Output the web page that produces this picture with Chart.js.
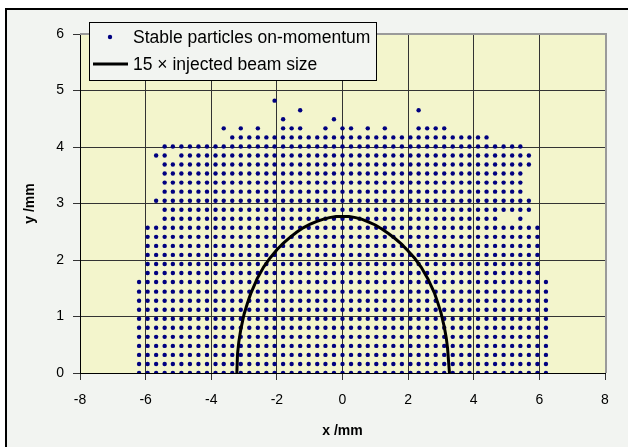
<!DOCTYPE html>
<html>
<head>
<meta charset="utf-8">
<script src="https://cdn.jsdelivr.net/npm/chart.js@4/dist/chart.umd.min.js"></script>
<style>
  html, body { margin: 0; padding: 0; background: #ffffff; }
  #c { display: block; }
</style>
</head>
<body>
<canvas id="c" width="628" height="447"></canvas>
<script>
// ---- Data ----
const seriesNames = ['Stable particles on-momentum', '15 \u00d7 injected beam size'];
const xTicks = [-8, -6, -4, -2, 0, 2, 4, 6, 8];
const yTicks = [0, 1, 2, 3, 4, 5, 6];

// grid columns (x, mm) on which particles sit
const colX = [-6.20, -5.94, -5.68, -5.42, -5.17, -4.91, -4.65, -4.39, -4.13, -3.87,
              -3.62, -3.36, -3.10, -2.84, -2.58, -2.32, -2.07, -1.81, -1.55, -1.29,
              -1.03, -0.77, -0.52, -0.26, 0.00, 0.26, 0.52, 0.77, 1.03, 1.29,
              1.55, 1.81, 2.07, 2.32, 2.58, 2.84, 3.10, 3.36, 3.62, 3.87,
              4.13, 4.39, 4.65, 4.91, 5.17, 5.42, 5.68, 5.94, 6.20];
// grid rows (y, mm)
const rowY = [0.00, 0.16, 0.32, 0.48, 0.64, 0.80, 0.96, 1.12, 1.28, 1.44,
              1.61, 1.77, 1.93, 2.09, 2.25, 2.41, 2.57, 2.73, 2.89, 3.05,
              3.21, 3.37, 3.53, 3.69, 3.85, 4.01, 4.17, 4.33, 4.49, 4.65, 4.82];
// occupied x-spans (mm) for each row, bottom to top
const rowSpans = [
  [[-6.20, 6.20]], [[-6.20, 6.20]], [[-6.20, 6.20]], [[-6.20, 6.20]], [[-6.20, 6.20]],
  [[-6.20, 6.20]], [[-6.20, 6.20]], [[-6.20, 6.20]], [[-6.20, 6.20]], [[-6.20, 6.20]],
  [[-6.20, 6.20]],
  [[-5.94, 5.94]], [[-5.94, 5.94]], [[-5.94, 5.94]], [[-5.94, 5.94]], [[-5.94, 5.94]], [[-5.94, 5.94]],
  [[-5.42, 4.65], [5.42, 5.42]],
  [[-5.42, 5.68]],
  [[-5.68, 5.68]],
  [[-5.42, 5.42]], [[-5.42, 5.42]], [[-5.42, 5.42]],
  [[-5.42, 5.68]],
  [[-5.68, -5.42], [-4.91, 5.68]],
  [[-5.42, 5.42]],
  [[-3.36, 4.39]],
  [[-3.62, -3.62], [-3.10, -3.10], [-2.58, -2.58], [-1.81, -1.29], [-0.52, -0.52],
   [0.00, 0.26], [0.77, 0.77], [1.29, 1.29], [2.32, 3.10]],
  [[-1.81, -1.81], [-0.26, -0.26]],
  [[-1.29, -1.29], [2.32, 2.32]],
  [[-2.07, -2.07]]
];

// beam-size envelope
const curveX = [-3.22, -3.20, -3.16, -3.10, -3.00, -2.90, -2.80, -2.60, -2.40, -2.20,
                -2.00, -1.80, -1.60, -1.40, -1.20, -1.00, -0.80, -0.60, -0.40, -0.20,
                0.00, 0.20, 0.40, 0.60, 0.80, 1.00, 1.20, 1.40, 1.60, 1.80,
                2.00, 2.20, 2.40, 2.60, 2.80, 2.90, 3.00, 3.10, 3.16, 3.20, 3.26];
const curveY = [0.00, 0.33, 0.55, 0.77, 1.04, 1.23, 1.40, 1.67, 1.88, 2.04,
                2.18, 2.30, 2.40, 2.49, 2.57, 2.63, 2.68, 2.72, 2.75, 2.77,
                2.77, 2.77, 2.75, 2.72, 2.67, 2.62, 2.55, 2.47, 2.38, 2.28,
                2.16, 2.03, 1.87, 1.67, 1.42, 1.25, 1.07, 0.82, 0.63, 0.45, 0.00];

// ---- Build the tables for Chart.js ----
const particles = [];
rowY.forEach((y, k) => {
  const spans = rowSpans[k] || [];
  colX.forEach(x => {
    if (spans.some(([a, b]) => x >= a - 0.005 && x <= b + 0.005)) particles.push({x, y});
  });
});
const envelope = curveX.map((x, i) => ({x, y: curveY[i]}));

const FONT = "'Liberation Sans', Arial, sans-serif";
const OUTER_BG = '#F2F4F1';
const PLOT_BG = '#F3F5CC';
const DOT = '#000080';

const bgPlugin = {
  id: 'bg',
  beforeDraw(chart) {
    const ctx = chart.ctx, a = chart.chartArea;
    ctx.save();
    ctx.fillStyle = '#ffffff';
    ctx.fillRect(0, 0, chart.width, chart.height);
    ctx.fillStyle = OUTER_BG;
    ctx.fillRect(6, 9, chart.width - 6, chart.height - 9);
    ctx.fillStyle = '#000';
    ctx.fillRect(6, 8, chart.width - 6, 2);
    ctx.fillRect(5, 8, 2, chart.height - 8);
    ctx.fillStyle = PLOT_BG;
    ctx.fillRect(a.left, a.top, a.right - a.left, a.bottom - a.top);
    ctx.restore();
  },
  afterDraw(chart) {
    const ctx = chart.ctx, a = chart.chartArea;
    ctx.save();
    // plot-area frame (top & right, grey)
    ctx.strokeStyle = '#9a9a9a';
    ctx.lineWidth = 2;
    ctx.beginPath();
    ctx.moveTo(a.left, a.top);
    ctx.lineTo(a.right + 1, a.top);
    ctx.lineTo(a.right + 1, a.bottom);
    ctx.stroke();
    // legend
    const lx = 89, ly = 22, lw = 287, lh = 58;
    ctx.fillStyle = OUTER_BG;
    ctx.fillRect(lx, ly, lw, lh);
    ctx.strokeStyle = '#000';
    ctx.lineWidth = 1;
    ctx.strokeRect(lx + 0.5, ly + 0.5, lw, lh);
    ctx.fillStyle = DOT;
    ctx.beginPath();
    ctx.arc(110, 37, 2.2, 0, Math.PI * 2);
    ctx.fill();
    ctx.strokeStyle = '#000';
    ctx.lineWidth = 3;
    ctx.beginPath();
    ctx.moveTo(93, 64);
    ctx.lineTo(128, 64);
    ctx.stroke();
    ctx.fillStyle = '#000';
    ctx.font = '17.5px ' + FONT;
    ctx.textAlign = 'left';
    ctx.textBaseline = 'alphabetic';
    ctx.fillText(seriesNames[0], 133, 43);
    ctx.fillText(seriesNames[1], 133, 70);
    ctx.restore();
  }
};

new Chart(document.getElementById('c'), {
  type: 'scatter',
  data: {
    datasets: [
      {
        label: seriesNames[1],
        data: envelope,
        showLine: true,
        borderColor: '#000',
        borderWidth: 3,
        pointRadius: 0,
        tension: 0,
        fill: false,
        order: 0
      },
      {
        label: seriesNames[0],
        data: particles,
        showLine: false,
        pointStyle: 'circle',
        pointRadius: 2.2,
        pointBorderWidth: 0,
        pointBackgroundColor: DOT,
        pointBorderColor: DOT,
        order: 1
      }
    ]
  },
  options: {
    responsive: false,
    devicePixelRatio: 1,
    animation: false,
    events: [],
    layout: { padding: { top: 34, right: 23, left: 0, bottom: 0 } },
    plugins: { legend: { display: false }, tooltip: { enabled: false } },
    scales: {
      x: {
        type: 'linear',
        min: xTicks[0], max: xTicks[xTicks.length - 1],
        afterBuildTicks: s => { s.ticks = xTicks.map(v => ({value: v})); },
        afterFit: s => { s.height = 74; },
        ticks: { color: '#000', font: { family: FONT, size: 14 }, padding: 12, maxRotation: 0 },
        grid: { color: '#333', lineWidth: 1, tickLength: 7, drawTicks: true },
        border: { display: true, color: '#000', width: 1 },
        title: { display: true, text: 'x /mm', color: '#000',
                 font: { family: FONT, size: 14, weight: 'bold' }, padding: { top: 0, bottom: 7 } }
      },
      y: {
        type: 'linear',
        min: yTicks[0], max: yTicks[yTicks.length - 1],
        afterBuildTicks: s => { s.ticks = yTicks.map(v => ({value: v})); },
        afterFit: s => { s.width = 80; },
        ticks: { color: '#000', font: { family: FONT, size: 14 }, padding: 9 },
        grid: { color: '#333', lineWidth: 1, tickLength: 7, drawTicks: true },
        border: { display: true, color: '#000', width: 1 },
        title: { display: true, text: 'y /mm', color: '#000',
                 font: { family: FONT, size: 14, weight: 'bold' }, padding: { top: 22, bottom: 0 } }
      }
    }
  },
  plugins: [bgPlugin]
});
</script>
</body>
</html>
